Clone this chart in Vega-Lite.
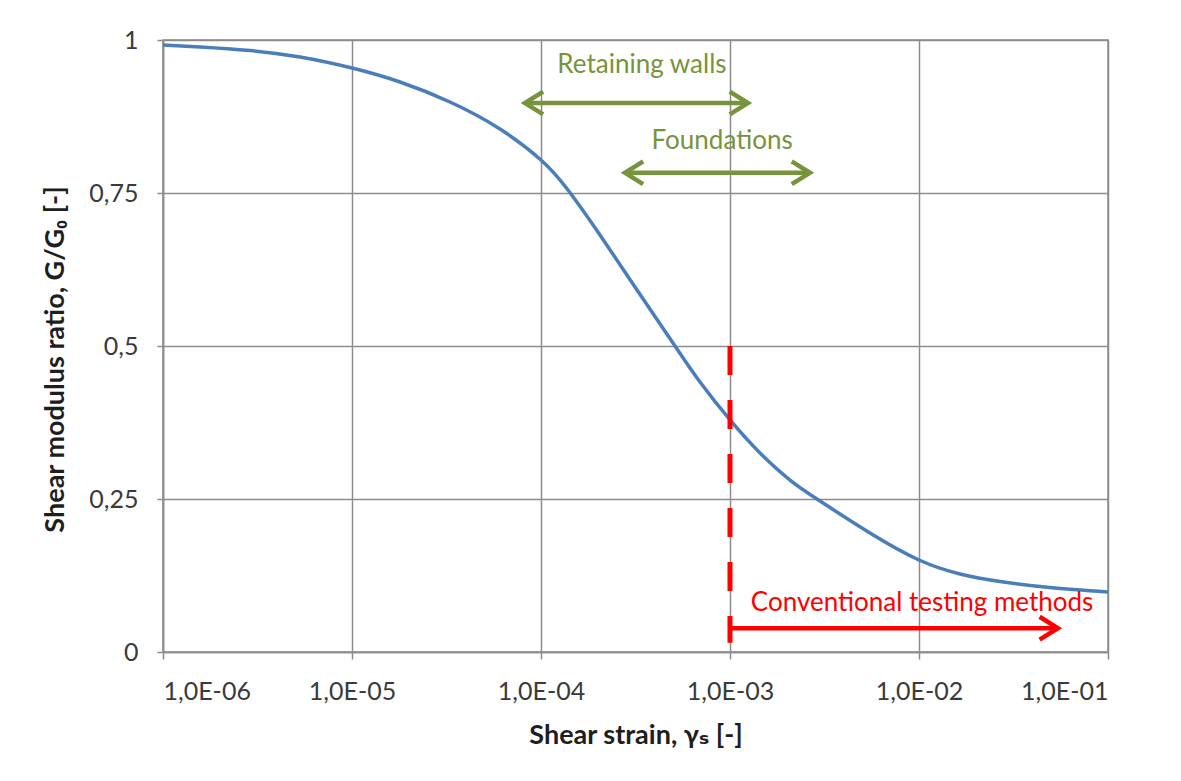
{
  "$schema": "https://vega.github.io/schema/vega-lite/v6.json",
  "width": 945,
  "height": 612,
  "autosize": {"type": "none"},
  "padding": {"left": 163, "top": 40, "right": 73, "bottom": 129},
  "background": "white",
  "config": {
    "font": "Lato, 'DejaVu Sans', sans-serif",
    "view": {"stroke": "#8c8c8c", "strokeWidth": 1.5},
    "axis": {
      "gridColor": "#8c8c8c",
      "gridWidth": 1.5,
      "gridOpacity": 1,
      "domainColor": "#8c8c8c",
      "domainWidth": 1.5,
      "tickColor": "#8c8c8c",
      "tickWidth": 1.5,
      "labelFont": "Lato, 'DejaVu Sans', sans-serif",
      "labelFontSize": 25,
      "labelColor": "#3a3a3a",
      "titleFont": "Lato, 'DejaVu Sans', sans-serif",
      "titleFontSize": 27,
      "titleFontWeight": "bold",
      "titleColor": "#1e1e1e"
    }
  },
  "datasets": {
    "curve": [
      {"strain": 1e-6, "ratio": 0.9918},
      {"strain": 1.570e-6, "ratio": 0.9886},
      {"strain": 2.886e-6, "ratio": 0.9828},
      {"strain": 5.307e-6, "ratio": 0.9722},
      {"strain": 1e-5, "ratio": 0.9542},
      {"strain": 1.795e-5, "ratio": 0.9314},
      {"strain": 3.300e-5, "ratio": 0.8987},
      {"strain": 6.067e-5, "ratio": 0.8546},
      {"strain": 1e-4, "ratio": 0.8039},
      {"strain": 1.389e-4, "ratio": 0.7549},
      {"strain": 2.052e-4, "ratio": 0.6814},
      {"strain": 3.143e-4, "ratio": 0.5964},
      {"strain": 5.117e-4, "ratio": 0.5},
      {"strain": 6.939e-4, "ratio": 0.4412},
      {"strain": 1e-3, "ratio": 0.3791},
      {"strain": 1.441e-3, "ratio": 0.3252},
      {"strain": 2.077e-3, "ratio": 0.281},
      {"strain": 2.994e-3, "ratio": 0.2467},
      {"strain": 5.503e-3, "ratio": 0.1944},
      {"strain": 1e-2, "ratio": 0.1503},
      {"strain": 1.648e-2, "ratio": 0.1275},
      {"strain": 2.683e-2, "ratio": 0.1152},
      {"strain": 4.931e-2, "ratio": 0.1054},
      {"strain": 1e-1, "ratio": 0.098}
    ],
    "limit": [{"strain": 1e-3, "top": 0.5, "bottom": 0.015}],
    "arrows": [
      {"group": "walls", "from": 8.22e-5, "to": 1.245e-3, "level": 0.897},
      {"group": "foundations", "from": 2.78e-4, "to": 2.65e-3, "level": 0.783},
      {"group": "testing", "from": 1e-3, "to": 0.0543, "level": 0.039}
    ],
    "heads": [
      {"group": "walls", "dir": "left", "strain": 8.22e-5, "level": 0.897},
      {"group": "walls", "dir": "right", "strain": 1.245e-3, "level": 0.897},
      {"group": "foundations", "dir": "left", "strain": 2.78e-4, "level": 0.783},
      {"group": "foundations", "dir": "right", "strain": 2.65e-3, "level": 0.783},
      {"group": "testing", "dir": "right", "strain": 0.0543, "level": 0.039}
    ],
    "labels": [
      {"group": "walls", "text": "Retaining walls", "strain": 3.42e-4, "level": 0.959},
      {"group": "foundations", "text": "Foundations", "strain": 9.08e-4, "level": 0.835},
      {"group": "testing", "text": "Conventional testing methods", "strain": 1.038e-2, "level": 0.08}
    ]
  },
  "layer": [
    {
      "data": {"name": "curve"},
      "mark": {"type": "line", "interpolate": "natural", "color": "#4a7ebb", "strokeWidth": 3.5, "clip": true},
      "encoding": {
        "x": {
          "field": "strain", "type": "quantitative",
          "scale": {"type": "log", "domain": [1e-6, 0.1], "nice": false},
          "axis": {
            "values": [1e-6, 1e-5, 1e-4, 1e-3, 1e-2, 1e-1],
            "labelExpr": "'1,0E-0' + round(-log(datum.value)/LN10)",
            "tickSize": 7,
            "labelPadding": 20,
            "titlePadding": 18,
            "title": "Shear strain, γₛ [-]"
          }
        },
        "y": {
          "field": "ratio", "type": "quantitative",
          "scale": {"domain": [0, 1], "nice": false},
          "axis": {
            "values": [0, 0.25, 0.5, 0.75, 1],
            "labelExpr": "replace(format(datum.value, ''), '.', ',')",
            "tickSize": 6,
            "labelPadding": 19,
            "titlePadding": 19,
            "titleY": 319,
            "title": "Shear modulus ratio, G/G₀ [-]"
          }
        }
      }
    },
    {
      "data": {"name": "limit"},
      "mark": {"type": "rule", "color": "#ff0000", "strokeWidth": 5, "strokeDash": [29, 25]},
      "encoding": {
        "x": {"field": "strain", "type": "quantitative"},
        "y": {"field": "top", "type": "quantitative"},
        "y2": {"field": "bottom"}
      }
    },
    {
      "data": {"name": "arrows"},
      "mark": {"type": "rule", "strokeWidth": 4.5},
      "encoding": {
        "x": {"field": "from", "type": "quantitative"},
        "x2": {"field": "to"},
        "y": {"field": "level", "type": "quantitative"},
        "color": {
          "field": "group", "type": "nominal",
          "scale": {"domain": ["walls", "foundations", "testing"], "range": ["#77933c", "#77933c", "#ff0000"]},
          "legend": null
        }
      }
    },
    {
      "data": {"name": "heads"},
      "mark": {"type": "point", "filled": false, "strokeWidth": 4.5, "opacity": 1, "strokeJoin": "miter"},
      "encoding": {
        "x": {"field": "strain", "type": "quantitative"},
        "y": {"field": "level", "type": "quantitative"},
        "size": {"value": 520},
        "shape": {
          "field": "dir", "type": "nominal",
          "scale": {"domain": ["left", "right"], "range": ["M 1.6 -1 L 0 0 L 1.6 1", "M -1.6 -1 L 0 0 L -1.6 1"]},
          "legend": null
        },
        "color": {
          "field": "group", "type": "nominal",
          "scale": {"domain": ["walls", "foundations", "testing"], "range": ["#77933c", "#77933c", "#ff0000"]},
          "legend": null
        }
      }
    },
    {
      "data": {"name": "labels"},
      "mark": {"type": "text", "fontSize": 26, "font": "Lato, 'DejaVu Sans', sans-serif", "baseline": "middle", "align": "center"},
      "encoding": {
        "x": {"field": "strain", "type": "quantitative"},
        "y": {"field": "level", "type": "quantitative"},
        "text": {"field": "text"},
        "color": {
          "field": "group", "type": "nominal",
          "scale": {"domain": ["walls", "foundations", "testing"], "range": ["#77933c", "#77933c", "#e8303a"]},
          "legend": null
        }
      }
    }
  ]
}
